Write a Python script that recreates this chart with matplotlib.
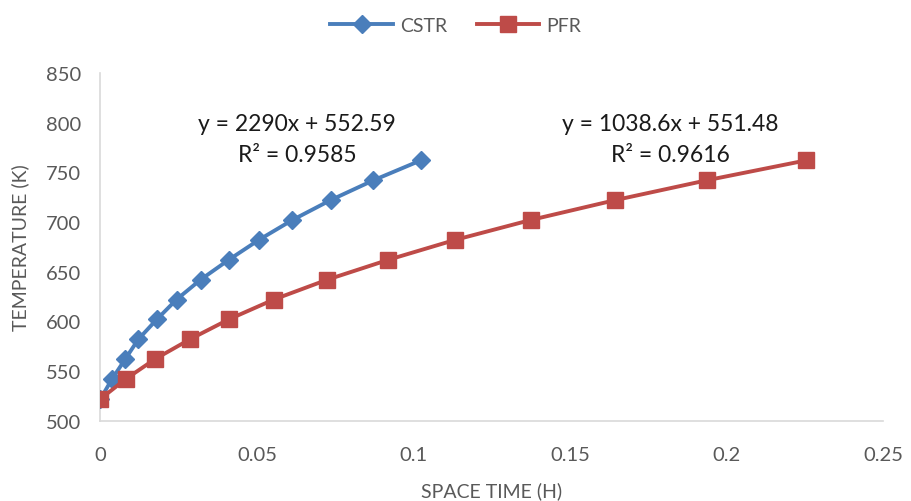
import matplotlib
matplotlib.use("Agg")
import matplotlib.pyplot as plt

plt.rcParams['font.family'] = ['Lato', 'DejaVu Sans']

# Data
cstr_time = [0.0, 0.0037, 0.0079, 0.0121, 0.0180, 0.0243, 0.0320, 0.0410,
             0.0506, 0.0613, 0.0735, 0.0872, 0.1023]
cstr_temp = [522, 542, 562, 582, 602, 622, 642, 662, 682, 702, 722, 742, 762]

pfr_time = [0.0, 0.0081, 0.0174, 0.0286, 0.0410, 0.0554, 0.0725, 0.0920,
            0.1133, 0.1374, 0.1644, 0.1937, 0.2254]
pfr_temp = [522, 542, 562, 582, 602, 622, 642, 662, 682, 702, 722, 742, 762]

x_ticks = [0, 0.05, 0.1, 0.15, 0.2, 0.25]
x_tick_labels = ["0", "0.05", "0.1", "0.15", "0.2", "0.25"]
y_ticks = [500, 550, 600, 650, 700, 750, 800, 850]

cstr_eq = "y = 2290x + 552.59\nR² = 0.9585"
pfr_eq = "y = 1038.6x + 551.48\nR² = 0.9616"

blue = "#4A7EBB"
red = "#BE4B48"
gray = "#595959"

fig = plt.figure(figsize=(9.12, 5.02), dpi=100)
ax = fig.add_axes([100.5 / 912, (502 - 421.7) / 502, (883 - 100.5) / 912, (421.7 - 74) / 502])

ax.plot(cstr_time, cstr_temp, color=blue, lw=2.8, marker="D", markersize=9,
        markeredgecolor=blue, label="CSTR", zorder=3)
ax.plot(pfr_time, pfr_temp, color=red, lw=2.8, marker="s", markersize=12,
        markeredgecolor=red, label="PFR", zorder=4)

ax.set_xlim(0, 0.25)
ax.set_ylim(500, 850)
ax.set_xticks(x_ticks)
ax.set_xticklabels(x_tick_labels)
ax.set_yticks(y_ticks)

for s in ["top", "right"]:
    ax.spines[s].set_visible(False)
for s in ["left", "bottom"]:
    ax.spines[s].set_color("#D9D9D9")
    ax.spines[s].set_linewidth(1.2)
ax.tick_params(axis="both", length=0, labelsize=14.5, colors=gray)
ax.tick_params(axis="x", pad=18)
ax.tick_params(axis="y", pad=14)

ax.set_xlabel("SPACE TIME (H)", fontsize=14, color=gray, labelpad=13)
ax.set_ylabel("TEMPERATURE (K)", fontsize=14, color=gray, labelpad=12)

ax.text(0.251, 0.81, cstr_eq, transform=ax.transAxes, ha="center", va="center",
        fontsize=16.5, color="#1A1A1A", linespacing=1.55)
ax.text(0.728, 0.81, pfr_eq, transform=ax.transAxes, ha="center", va="center",
        fontsize=16.5, color="#1A1A1A", linespacing=1.55)

fig.legend(loc="upper center", bbox_to_anchor=(0.5, 1.0), ncol=2, frameon=False,
           fontsize=14, labelcolor=gray, handlelength=3.2, columnspacing=1.5,
           handletextpad=0.4)

fig.savefig("out.png", dpi=100, facecolor="white")
